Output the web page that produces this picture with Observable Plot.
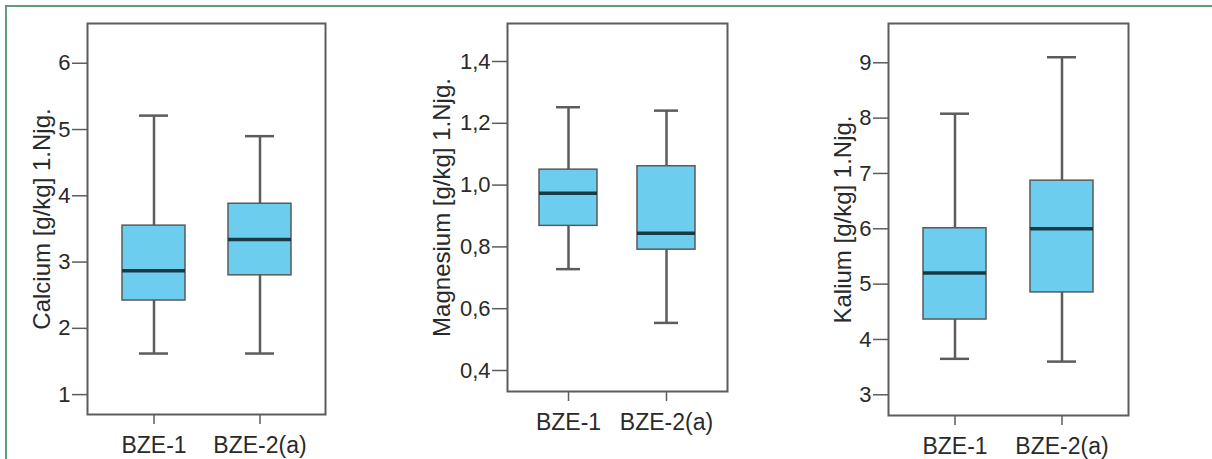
<!DOCTYPE html>
<html>
<head>
<meta charset="utf-8">
<script src="https://cdn.jsdelivr.net/npm/d3@7"></script>
<script src="https://cdn.jsdelivr.net/npm/@observablehq/plot@0.6"></script>
<style>
  body { margin: 0; background: #fff; }
  #wrap { position: relative; width: 1212px; height: 459px; overflow: hidden; background: #fff;
          font-family: "Liberation Sans", Arial, sans-serif; }
  .border { position: absolute; left: 5px; top: 5px; width: 1220px; height: 470px;
            border-top: 2px solid #5f9c7c; border-left: 2px solid #5f9c7c; }
  .panel { position: absolute; top: 0; }
</style>
</head>
<body>
<div id="wrap"><div class="border"></div></div>
<script>
// Categories
const groups = ["BZE-1", "BZE-2(a)"];

// Calcium [g/kg] 1.Njg.
const caMin = [1.62, 1.62];
const caQ1  = [2.42, 2.80];
const caMed = [2.87, 3.34];
const caQ3  = [3.55, 3.88];
const caMax = [5.21, 4.90];
const caTicks = [1, 2, 3, 4, 5, 6];

// Magnesium [g/kg] 1.Njg.
const mgMin = [0.728, 0.554];
const mgQ1  = [0.868, 0.791];
const mgMed = [0.974, 0.844];
const mgQ3  = [1.050, 1.061];
const mgMax = [1.252, 1.241];
const mgTicks = [0.4, 0.6, 0.8, 1.0, 1.2, 1.4];

// Kalium [g/kg] 1.Njg.
const kMin = [3.65, 3.60];
const kQ1  = [4.36, 4.85];
const kMed = [5.20, 6.00];
const kQ3  = [6.01, 6.87];
const kMax = [8.08, 9.10];
const kTicks = [3, 4, 5, 6, 7, 8, 9];

const labels = ["Calcium [g/kg] 1.Njg.", "Magnesium [g/kg] 1.Njg.", "Kalium [g/kg] 1.Njg."];

function rows(mn, q1, md, q3, mx) {
  return groups.map((g, i) => ({g, min: mn[i], q1: q1[i], med: md[i], q3: q3[i], max: mx[i]}));
}

const comma1 = d => d.toFixed(1).replace(".", ",");

function panel(cfg) {
  const data = cfg.data;
  const whisk = {stroke: "#5c5c5c", strokeWidth: 2.5};
  return Plot.plot({
    width: 345, height: 459,
    marginLeft: cfg.ml, marginRight: cfg.mr, marginTop: 23, marginBottom: cfg.mb,
    style: {fontFamily: "Liberation Sans, Arial, sans-serif", color: "#2a2a2a", background: "transparent", overflow: "visible"},
    x: {domain: groups, paddingInner: 0.41, paddingOuter: 0.32, axis: null},
    y: {domain: cfg.domain, axis: null},
    marks: [
      Plot.ruleX(data, {x: "g", y1: "min", y2: "max", ...whisk}),
      Plot.tickY(data, {x: "g", y: "min", insetLeft: 17, insetRight: 17, ...whisk}),
      Plot.tickY(data, {x: "g", y: "max", insetLeft: 17, insetRight: 17, ...whisk}),
      Plot.barY(data, {x: "g", y1: "q1", y2: "q3", fill: "#6dcdef", stroke: "#5a5a5a", strokeWidth: 1.5}),
      Plot.tickY(data, {x: "g", y: "med", stroke: "#173a44", strokeWidth: 3.5}),
      Plot.frame({stroke: "#5c5c5c", strokeWidth: 2}),
      Plot.axisY({ticks: cfg.ticks, tickSize: 15, tickPadding: 2, fontSize: 22, tickFormat: cfg.fmt,
                  stroke: "#5c5c5c", strokeWidth: 1.5, strokeOpacity: 1, label: null}),
      Plot.axisX({tickSize: 10, tickPadding: 12, fontSize: 23, stroke: "#5c5c5c", strokeWidth: 1.5, strokeOpacity: 1, label: null}),
      Plot.text([cfg.label], {frameAnchor: "left", textAnchor: "middle", dx: cfg.ldx, rotate: -90, fontSize: 24, fill: "#2a2a2a"})
    ]
  });
}

const cfgs = [
  {left: 0,   ml: 87,  mr: 20, mb: 45, domain: [0.70, 6.60], ticks: caTicks, fmt: d => String(d), label: labels[0], ldx: -45,
   data: rows(caMin, caQ1, caMed, caQ3, caMax)},
  {left: 400, ml: 107, mr: 18, mb: 68, domain: [0.332, 1.523], ticks: mgTicks, fmt: comma1, label: labels[1], ldx: -65,
   data: rows(mgMin, mgQ1, mgMed, mgQ3, mgMax)},
  {left: 800, ml: 88,  mr: 17, mb: 44, domain: [2.626, 9.71], ticks: kTicks, fmt: d => String(d), label: labels[2], ldx: -45,
   data: rows(kMin, kQ1, kMed, kQ3, kMax)}
];

const wrap = document.getElementById("wrap");
for (const c of cfgs) {
  const div = document.createElement("div");
  div.className = "panel";
  div.style.left = c.left + "px";
  div.appendChild(panel(c));
  wrap.appendChild(div);
}
</script>
</body>
</html>
